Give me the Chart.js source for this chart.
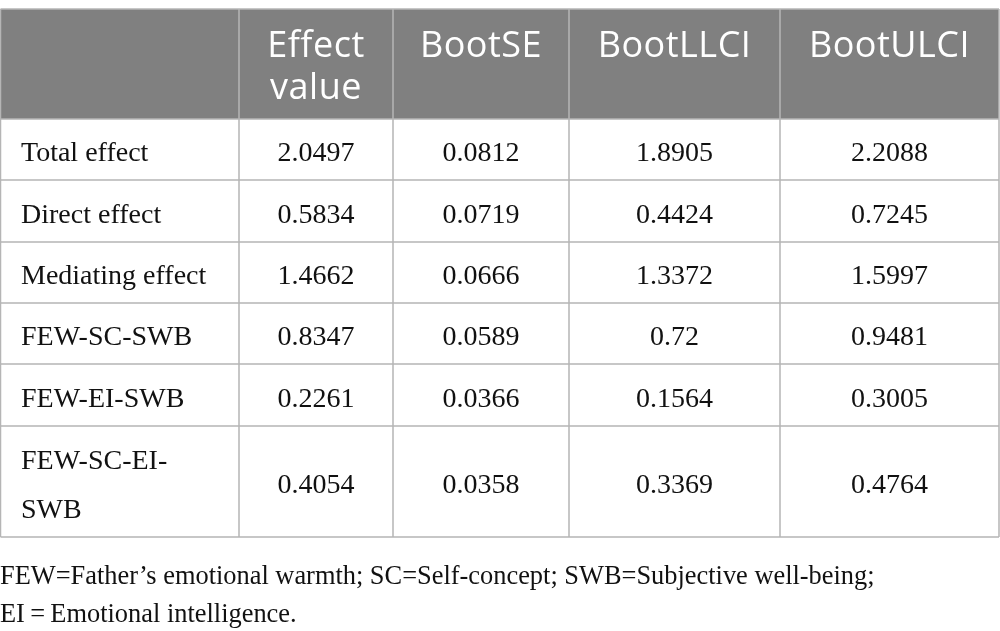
<!DOCTYPE html>
<html>
<head>
<meta charset="utf-8">
<script src="https://cdn.jsdelivr.net/npm/chart.js@4"></script>
<style>
  html, body { margin: 0; padding: 0; background: #fff; }
  #wrap { width: 1000px; height: 631px; }
</style>
</head>
<body>
<div id="wrap"><canvas id="tableChart"></canvas></div>
<script>
// table content
var headers = ["Effect\nvalue", "BootSE", "BootLLCI", "BootULCI"];
var rowLabels = ["Total effect", "Direct effect", "Mediating effect", "FEW-SC-SWB", "FEW-EI-SWB", "FEW-SC-EI-\nSWB"];
var effectValue = [2.0497, 0.5834, 1.4662, 0.8347, 0.2261, 0.4054];
var bootSE = [0.0812, 0.0719, 0.0666, 0.0589, 0.0366, 0.0358];
var bootLLCI = [1.8905, 0.4424, 1.3372, 0.72, 0.1564, 0.3369];
var bootULCI = [2.2088, 0.7245, 1.5997, 0.9481, 0.3005, 0.4764];
var footnote = ["FEW=Father\u2019s emotional warmth; SC=Self-concept; SWB=Subjective well-being;", "EI\u2009=\u2009Emotional intelligence."];

// layout (in scale units)
var colEdges = [0.5, 239, 393, 569, 780, 999];
var rowEdges = [9, 119, 180, 242, 303, 364, 426, 537];

var series = [effectValue, bootSE, bootLLCI, bootULCI];

var tablePlugin = {
  id: "tablePlugin",
  beforeDatasetsDraw: function (chart) {
    var ctx = chart.ctx;
    var xs = chart.scales.x;
    var ys = chart.scales.y;
    var X = function (v) { return xs.getPixelForValue(v); };
    var Y = function (v) { return ys.getPixelForValue(v); };
    var left = X(colEdges[0]), right = X(colEdges[colEdges.length - 1]);

    ctx.save();
    // header background
    ctx.fillStyle = "#808080";
    ctx.fillRect(left, Y(rowEdges[0]), right - left, Y(rowEdges[1]) - Y(rowEdges[0]));

    // grid lines
    ctx.strokeStyle = "#b5b5b5";
    ctx.lineWidth = 1.5;
    ctx.beginPath();
    for (var r = 0; r < rowEdges.length; r++) {
      ctx.moveTo(left, Y(rowEdges[r]));
      ctx.lineTo(right, Y(rowEdges[r]));
    }
    for (var c = 0; c < colEdges.length; c++) {
      ctx.moveTo(X(colEdges[c]), Y(rowEdges[0]));
      ctx.lineTo(X(colEdges[c]), Y(rowEdges[rowEdges.length - 1]));
    }
    ctx.stroke();

    // header text
    ctx.fillStyle = "#ffffff";
    ctx.font = "36px 'Open Sans'";
    ctx.letterSpacing = "0.5px";
    ctx.textAlign = "center";
    ctx.textBaseline = "alphabetic";
    for (var h = 0; h < headers.length; h++) {
      var cx = (X(colEdges[h + 1]) + X(colEdges[h + 2])) / 2;
      var lines = headers[h].split("\n");
      for (var l = 0; l < lines.length; l++) {
        ctx.fillText(lines[l], cx, Y(57 + l * 42));
      }
    }
    ctx.letterSpacing = "0px";

    // body
    ctx.fillStyle = "#111111";
    ctx.font = "28px 'Liberation Serif'";
    ctx.textBaseline = "alphabetic";
    for (var i = 0; i < rowLabels.length; i++) {
      var cy = (Y(rowEdges[i + 1]) + Y(rowEdges[i + 2])) / 2 + 11.5;
      var parts = rowLabels[i].split("\n");
      ctx.textAlign = "left";
      for (var p = 0; p < parts.length; p++) {
        var off = (p - (parts.length - 1) / 2) * 49;
        ctx.fillText(parts[p], X(21), cy + off);
      }
      ctx.textAlign = "center";
      for (var s = 0; s < series.length; s++) {
        var sx = (X(colEdges[s + 1]) + X(colEdges[s + 2])) / 2;
        ctx.fillText(String(series[s][i]), sx, cy);
      }
    }

    // footnote
    ctx.font = "26.4px 'Liberation Serif'";
    ctx.textAlign = "left";
    ctx.textBaseline = "alphabetic";
    for (var f = 0; f < footnote.length; f++) {
      ctx.fillText(footnote[f], X(0), Y(584 + f * 38));
    }
    ctx.restore();
  }
};

var ctx = document.getElementById("tableChart");

var myChart = new Chart(ctx, {
  type: "scatter",
  data: {
    datasets: [
      {
        label: "table",
        data: [],
      },
    ],
  },
  options: {
    responsive: true,
    maintainAspectRatio: false,
    animation: false,
    layout: { padding: 0 },
    plugins: {
      legend: { display: false },
      tooltip: { enabled: false },
    },
    scales: {
      x: { type: "linear", min: 0, max: 1000, display: false },
      y: { type: "linear", min: 0, max: 631, reverse: true, display: false },
    },
  },
  plugins: [tablePlugin],
});
</script>
</body>
</html>
